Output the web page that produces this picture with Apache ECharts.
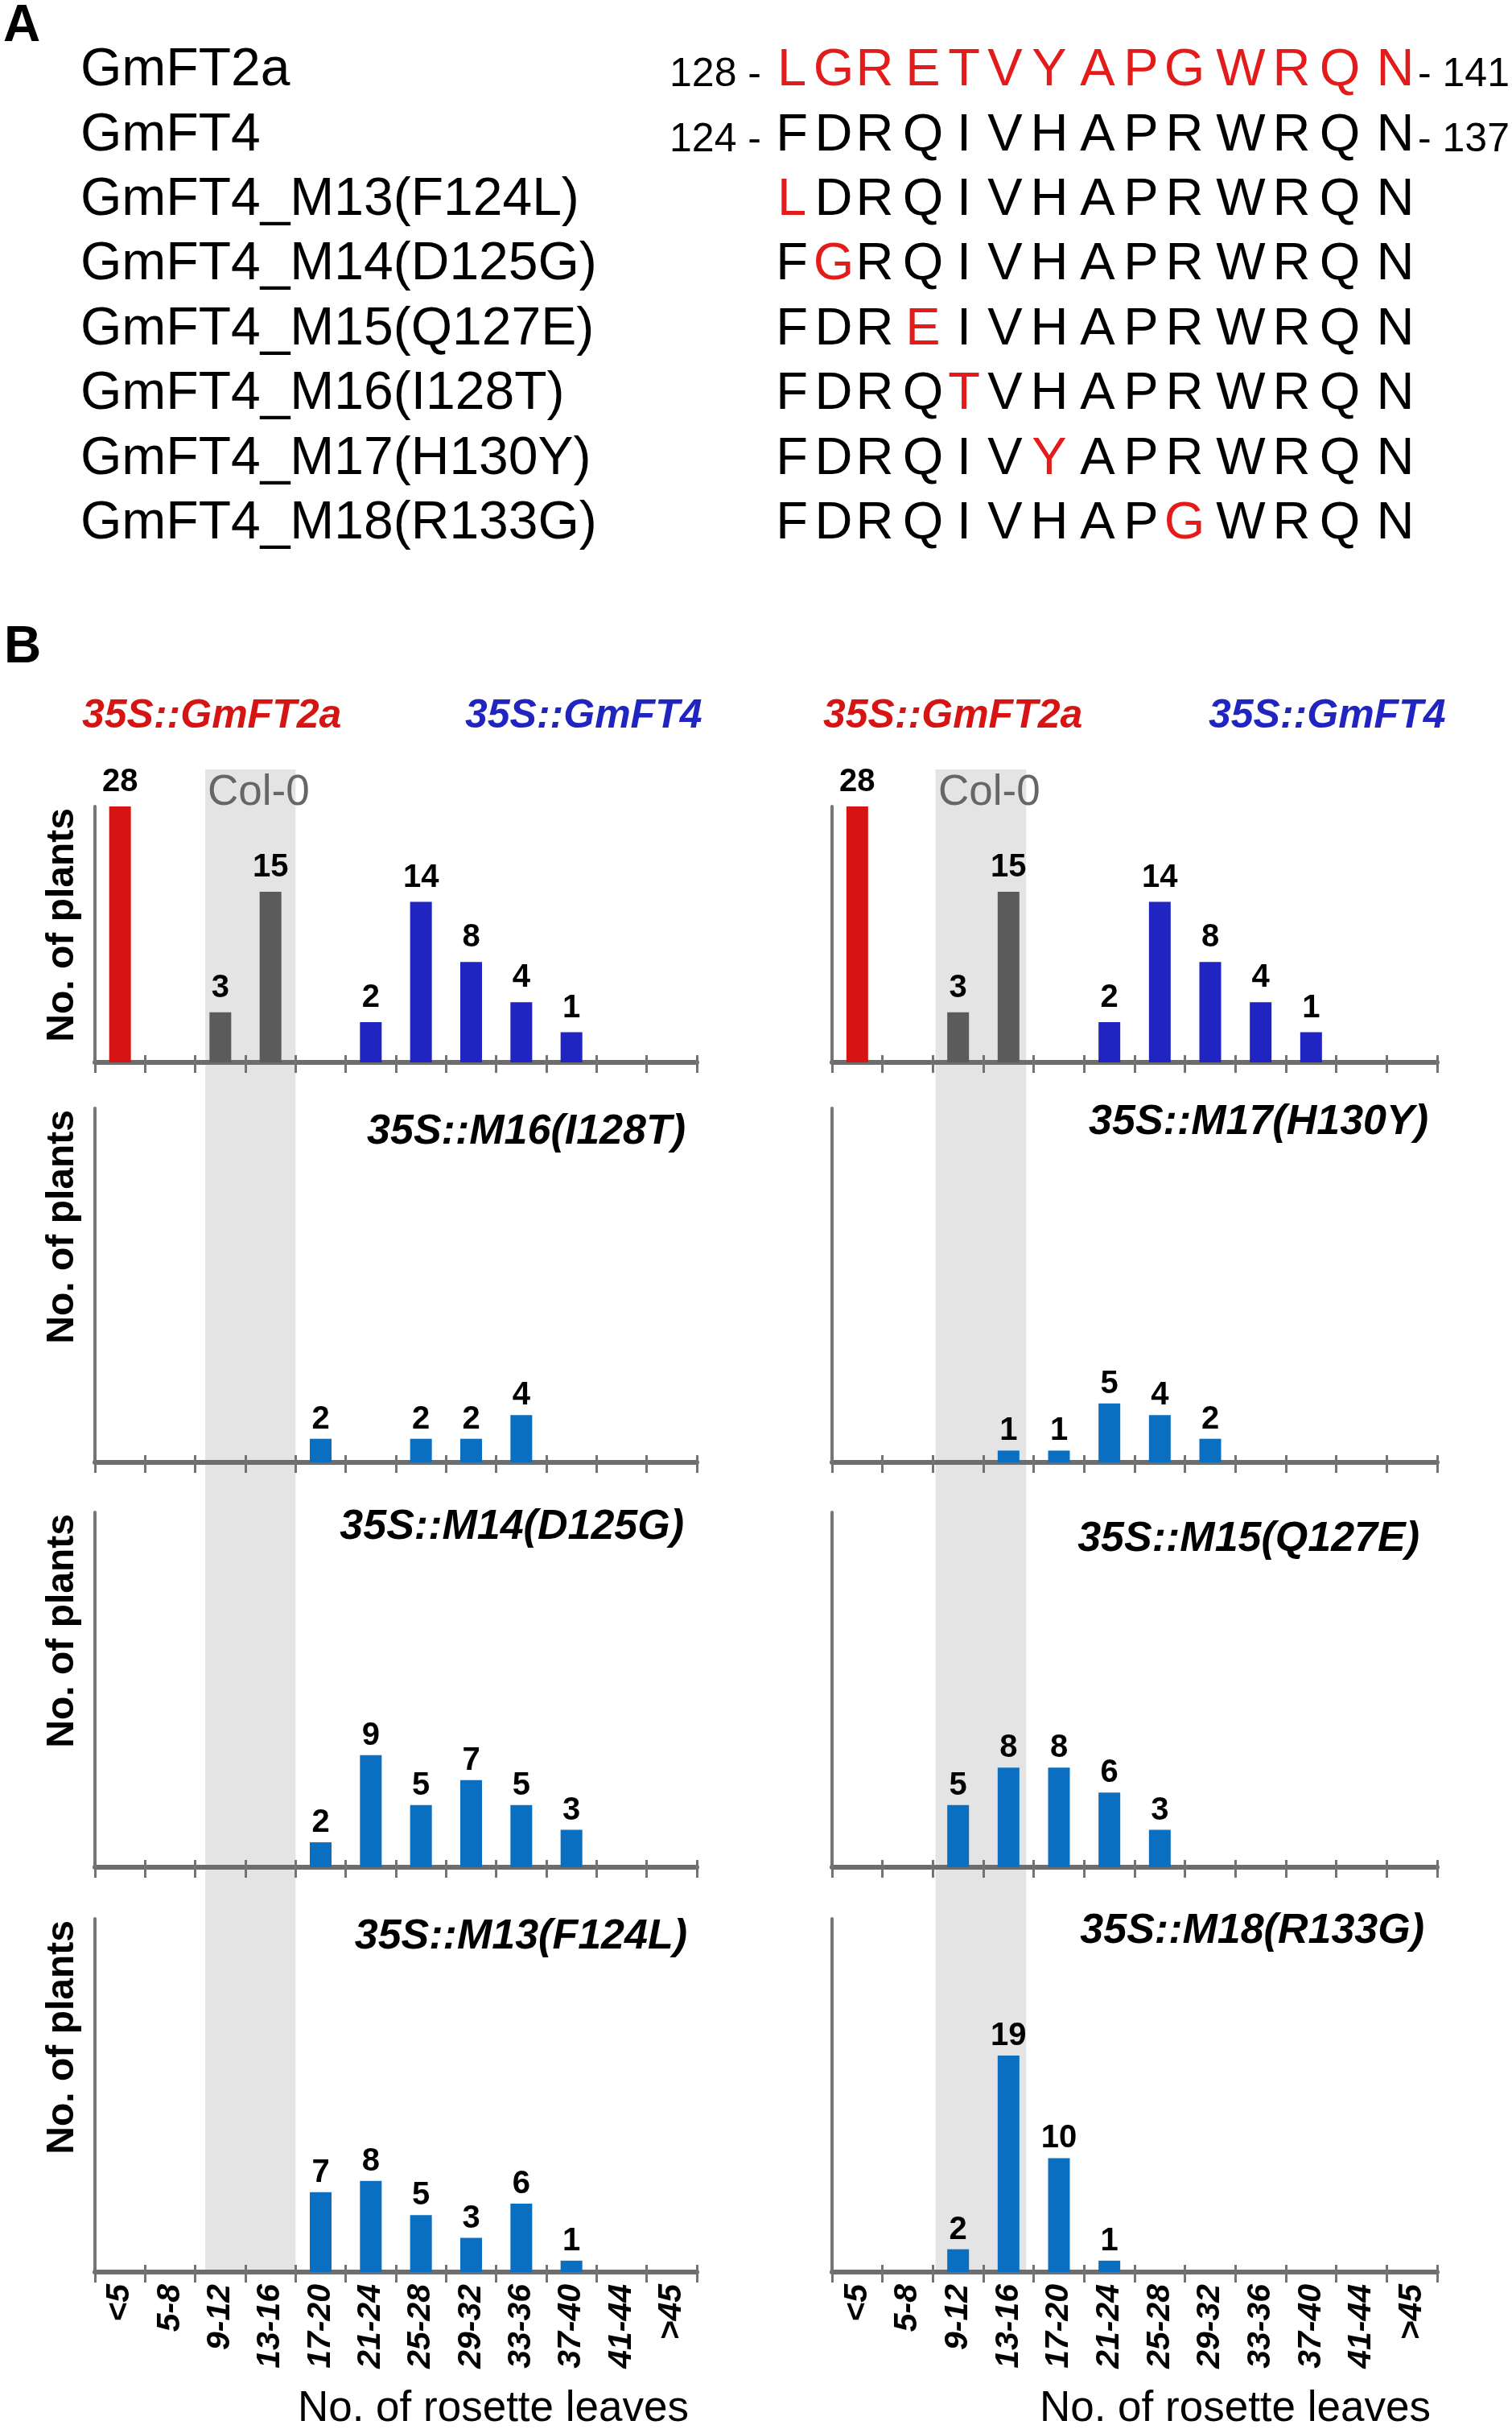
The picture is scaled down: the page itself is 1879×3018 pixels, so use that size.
<!DOCTYPE html>
<html>
<head>
<meta charset="utf-8">
<title>GmFT4 mutants - rosette leaves</title>
<script src="https://cdn.jsdelivr.net/npm/echarts@6/dist/echarts.min.js"></script>
<style>
  html, body { margin: 0; padding: 0; background: #fff; }
  #main { width: 1879px; height: 3018px; }
</style>
</head>
<body>
<div id="main"></div>
<script>
// ---- panel A: sequence alignment ----
const seqNames = ['GmFT2a', 'GmFT4', 'GmFT4_M13(F124L)', 'GmFT4_M14(D125G)', 'GmFT4_M15(Q127E)',
  'GmFT4_M16(I128T)', 'GmFT4_M17(H130Y)', 'GmFT4_M18(R133G)']
const seqs = ['LGRETVYAPGWRQN', 'FDRQIVHAPRWRQN', 'LDRQIVHAPRWRQN', 'FGRQIVHAPRWRQN', 'FDREIVHAPRWRQN',
  'FDRQTVHAPRWRQN', 'FDRQIVYAPRWRQN', 'FDRQIVHAPGWRQN']
const mutPos = ['all', null, 0, 1, 3, 4, 6, 9]
const seqStart = ['128 -', '124 -', '', '', '', '', '', '']
const seqEnd = ['- 141', '- 137', '', '', '', '', '', '']

// ---- panel B: histograms ----
const leafBins = ['<5', '5-8', '9-12', '13-16', '17-20', '21-24', '25-28', '29-32', '33-36', '37-40', '41-44', '>45']
const gmft2a = [28, null, null, null, null, null, null, null, null, null, null, null]
const col0 = [null, null, 3, 15, null, null, null, null, null, null, null, null]
const gmft4 = [null, null, null, null, null, 2, 14, 8, 4, 1, null, null]
const m16 = [null, null, null, null, 2, null, 2, 2, 4, null, null, null]
const m17 = [null, null, null, 1, 1, 5, 4, 2, null, null, null, null]
const m14 = [null, null, null, null, 2, 9, 5, 7, 5, 3, null, null]
const m15 = [null, null, 5, 8, 8, 6, 3, null, null, null, null, null]
const m13 = [null, null, null, null, 7, 8, 5, 3, 6, 1, null, null]
const m18 = [null, null, 2, 19, 10, 1, null, null, null, null, null, null]
const panelTitles = ['35S::M16(I128T)', '35S::M17(H130Y)', '35S::M14(D125G)', '35S::M15(Q127E)',
  '35S::M13(F124L)', '35S::M18(R133G)']

const FF = '"Liberation Sans", Arial, Helvetica, sans-serif'
const RED = '#d61414'
const GREY = '#5b5b5b'
const DARKBLUE = '#2024c0'
const BLUE = '#0a6fc1'
const AXIS = '#6d6d6d'

// layout
const cols = [{ left: 118, width: 748 }, { left: 1034, width: 752 }]
const rows = [
  { top: 1002, h: 318, min: -2, max: 23.5, labelDist: 10 },
  { top: 1377, h: 440, min: 0, max: 30, labelDist: 4 },
  { top: 1879, h: 441, min: 0, max: 28.5, labelDist: 4 },
  { top: 2384, h: 439, min: 0, max: 31, labelDist: 4 }
]
const bandTop = 956
const bandBottom = 2823
const bandRange = [[2.2, 4.0], [2.05, 3.85]]

const panels = [
  { row: 0, col: 0, series: [[gmft2a, RED], [col0, GREY], [gmft4, DARKBLUE]] },
  { row: 0, col: 1, series: [[gmft2a, RED], [col0, GREY], [gmft4, DARKBLUE]] },
  { row: 1, col: 0, series: [[m16, BLUE]] },
  { row: 1, col: 1, series: [[m17, BLUE]] },
  { row: 2, col: 0, series: [[m14, BLUE]] },
  { row: 2, col: 1, series: [[m15, BLUE]] },
  { row: 3, col: 0, series: [[m13, BLUE]] },
  { row: 3, col: 1, series: [[m18, BLUE]] }
]
// title anchor: right end x, baseline y
const titlePos = [[852, 1425], [1775, 1413], [850, 1916], [1764, 1931], [854, 2425], [1770, 2418]]

const grids = []
const xAxes = []
const yAxes = []
const series = []

panels.forEach((p, i) => {
  const c = cols[p.col]
  const r = rows[p.row]
  grids.push({ left: c.left, width: c.width, top: r.top, height: r.h })
  xAxes.push({
    gridIndex: i,
    type: 'category',
    data: leafBins,
    axisLine: { show: true, onZero: false, lineStyle: { color: AXIS, width: 6 } },
    axisTick: { show: true, interval: 0, length: 13, lineStyle: { color: '#737373', width: 3 } },
    axisLabel: p.row === 3 ? {
      show: true,
      rotate: 90,
      margin: 15,
      interval: 0,
      color: '#000',
      fontSize: 41,
      fontWeight: 'bold',
      fontStyle: 'italic',
      fontFamily: FF
    } : { show: false },
    splitLine: { show: false }
  })
  // second axis only for the upper half of the crossing ticks
  xAxes.push({
    gridIndex: i,
    type: 'category',
    data: leafBins,
    position: 'bottom',
    axisLine: { show: false, onZero: false },
    axisTick: { show: true, interval: 0, inside: true, length: 9, lineStyle: { color: '#737373', width: 3 } },
    axisLabel: { show: false },
    splitLine: { show: false }
  })
  yAxes.push({
    gridIndex: i,
    type: 'value',
    min: r.min,
    max: r.max,
    startValue: r.min,
    axisLine: { show: true, lineStyle: { color: '#777', width: 4 } },
    axisTick: { show: false },
    axisLabel: { show: false },
    splitLine: { show: false }
  })
  p.series.forEach(([data, color]) => {
    series.push({
      type: 'bar',
      xAxisIndex: 2 * i,
      yAxisIndex: i,
      data: data,
      barWidth: 27,
      barGap: '-100%',
      itemStyle: { color: color },
      label: {
        show: true,
        position: 'top',
        distance: r.labelDist,
        color: '#000',
        fontSize: 40,
        fontWeight: 'bold',
        fontFamily: FF
      },
      silent: true
    })
  })
})

// Col-0 band, one tall grid per column
cols.forEach((c, k) => {
  grids.push({ left: c.left, width: c.width, top: bandTop, height: bandBottom - bandTop })
  xAxes.push({ gridIndex: 8 + k, type: 'value', min: 0, max: 12, show: false })
  yAxes.push({ gridIndex: 8 + k, type: 'value', min: 0, max: 1, show: false })
  series.push({
    type: 'line',
    xAxisIndex: 16 + k,
    yAxisIndex: 8 + k,
    data: [],
    z: -2,
    silent: true,
    markArea: {
      silent: true,
      z: -2,
      itemStyle: { color: '#e4e4e4' },
      data: [[{ xAxis: bandRange[k][0], yAxis: 0 }, { xAxis: bandRange[k][1], yAxis: 1 }]]
    }
  })
})

// text helper, y given as baseline
function txt(text, x, baseline, size, opts) {
  opts = opts || {}
  return {
    type: 'text',
    z: 10,
    silent: true,
    x: x,
    y: baseline - size * 0.35,
    style: {
      text: text,
      fill: opts.fill || '#000',
      fontSize: size,
      fontWeight: opts.weight || 'normal',
      fontStyle: opts.style || 'normal',
      fontFamily: FF,
      align: opts.align || 'left',
      textAlign: opts.align || 'left',
      verticalAlign: 'middle',
      textVerticalAlign: 'middle'
    }
  }
}

const graphics = []
graphics.push(txt('A', 4, 56, 64, { weight: 'bold' }))
graphics.push(txt('B', 5, 828, 64, { weight: 'bold' }))

const letterX = [984, 1036, 1087, 1147, 1198, 1249, 1304, 1364, 1418, 1472, 1542, 1605, 1665, 1734]
seqNames.forEach((name, r) => {
  const base = 111 + r * 80.4
  graphics.push(txt(name, 100, base, 66))
  seqs[r].split('').forEach((ch, i) => {
    const red = mutPos[r] === 'all' || mutPos[r] === i
    graphics.push(txt(ch, letterX[i], base, 65, { align: 'center', fill: red ? '#e41b1b' : '#000' }))
  })
  if (seqStart[r]) graphics.push(txt(seqStart[r], 946, base, 50, { align: 'right' }))
  if (seqEnd[r]) graphics.push(txt(seqEnd[r], 1762, base, 50))
})

// row 1 headers
const headX = [[102, 578], [1023, 1502]]
headX.forEach(([xr, xb]) => {
  graphics.push(txt('35S::GmFT2a', xr, 908, 50, { weight: 'bold', style: 'italic', fill: RED }))
  graphics.push(txt('35S::GmFT4', xb, 908, 50, { weight: 'bold', style: 'italic', fill: DARKBLUE }))
})
graphics.push(txt('Col-0', 258, 1004, 53, { fill: '#666' }))
graphics.push(txt('Col-0', 1166, 1004, 53, { fill: '#666' }))

panelTitles.forEach((t, i) => {
  graphics.push(txt(t, titlePos[i][0], titlePos[i][1], 52, { weight: 'bold', style: 'italic', align: 'right' }))
})

rows.forEach(r => {
  graphics.push({
    type: 'text',
    z: 10,
    silent: true,
    x: 78,
    y: r.top + 2,
    rotation: Math.PI / 2,
    style: {
      text: 'No. of plants',
      fill: '#000',
      fontSize: 48,
      fontWeight: 'bold',
      fontFamily: FF,
      align: 'right',
      textAlign: 'right',
      verticalAlign: 'middle',
      textVerticalAlign: 'middle'
    }
  })
})

graphics.push(txt('No. of rosette leaves', 856, 3012, 53, { align: 'right' }))
graphics.push(txt('No. of rosette leaves', 1778, 3012, 53, { align: 'right' }))

const option = {
  backgroundColor: '#fff',
  animation: false,
  grid: grids,
  xAxis: xAxes,
  yAxis: yAxes,
  series: series,
  graphic: graphics
}

const chart = echarts.init(document.getElementById('main'), null, { renderer: 'canvas' })
chart.setOption(option)
</script>
</body>
</html>
